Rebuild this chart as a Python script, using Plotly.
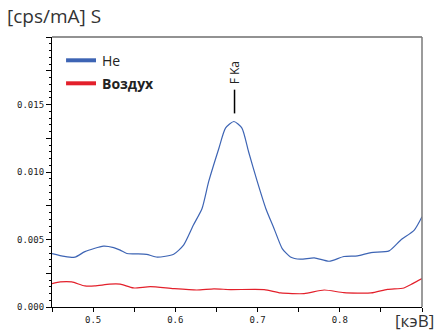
import plotly.graph_objects as go

# Data
he_x = [0.45, 0.465, 0.478, 0.49, 0.5126, 0.525, 0.533, 0.541, 0.553, 0.565, 0.578, 0.598,
        0.610, 0.622, 0.6325, 0.6406, 0.653, 0.661, 0.6712, 0.681, 0.689, 0.6996, 0.71,
        0.72, 0.73, 0.74, 0.752, 0.769, 0.787, 0.805, 0.8216, 0.838, 0.860, 0.874, 0.8906, 0.9]
he_y = [0.00396, 0.00375, 0.00369, 0.0041, 0.00451, 0.0044, 0.00421, 0.00396, 0.00394, 0.0039,
        0.00369, 0.00391, 0.00458, 0.00607, 0.0073, 0.0093, 0.01176, 0.01325, 0.01374, 0.01325,
        0.01152, 0.0093, 0.0073, 0.00582, 0.00433, 0.00371, 0.00354, 0.00364, 0.00339, 0.00374,
        0.00379, 0.00403, 0.00416, 0.00495, 0.0057, 0.00669]

air_x = [0.45, 0.46, 0.474, 0.49, 0.502, 0.52, 0.533, 0.549, 0.5695, 0.598, 0.626, 0.647,
         0.667, 0.708, 0.728, 0.7566, 0.781, 0.805, 0.838, 0.858, 0.878, 0.8887, 0.9]
air_y = [0.00173, 0.00186, 0.00186, 0.00156, 0.00156, 0.00169, 0.00169, 0.00141, 0.00151,
         0.00136, 0.00126, 0.00134, 0.00129, 0.00129, 0.00104, 0.00099, 0.00126, 0.00106,
         0.00104, 0.00131, 0.00141, 0.00173, 0.0021]

series_names = ["He", "Воздух"]
series_colors = ["#3d64b4", "#e3202b"]

y_tickvals = [0, 0.0025, 0.005, 0.0075, 0.01, 0.0125, 0.015, 0.0175, 0.02]
y_ticktext = ["0.000", "", "0.005", "", "0.010", "", "0.015", "", ""]
x_tickvals = [0.45, 0.5, 0.55, 0.6, 0.65, 0.7, 0.75, 0.8, 0.85, 0.9]
x_ticktext = ["", "0.5", "", "0.6", "", "0.7", "", "0.8", "", ""]

peak_label = "F Ka"
peak_x = 0.672

fig = go.Figure()
fig.add_trace(go.Scatter(x=he_x, y=he_y, mode="lines", name=series_names[0],
                         line=dict(color=series_colors[0], width=1.2, shape="spline", smoothing=0.6)))
fig.add_trace(go.Scatter(x=air_x, y=air_y, mode="lines", name=series_names[1],
                         line=dict(color=series_colors[1], width=1.2, shape="spline", smoothing=0.6)))

mono = "DejaVu Sans Mono"
fig.update_layout(
    width=438, height=331,
    margin=dict(l=52, r=16, t=37, b=24, autoexpand=False),
    paper_bgcolor="white", plot_bgcolor="white",
    showlegend=False,
    xaxis=dict(range=[0.45, 0.9], showgrid=False, zeroline=False, automargin=False,
               showline=True, linecolor="black", linewidth=1.2,
               ticks="outside", ticklen=4, tickcolor="black",
               tickvals=x_tickvals, ticktext=x_ticktext,
               tickfont=dict(family=mono, size=9, color="#222")),
    yaxis=dict(range=[0, 0.02], showgrid=False, zeroline=False, automargin=False,
               showline=True, linecolor="black", linewidth=1.2,
               ticks="outside", ticklen=5, tickcolor="black",
               tickvals=y_tickvals, ticktext=y_ticktext,
               tickfont=dict(family=mono, size=9, color="#222"),
               minor=dict(dtick=0.0005, ticks="outside", ticklen=2, tickcolor="black")),
)

# top / right frame in grey
fig.add_shape(type="line", xref="paper", yref="paper", x0=0, x1=1, y0=1, y1=1,
              line=dict(color="#6e6e6e", width=1.5))
fig.add_shape(type="line", xref="paper", yref="paper", x0=1, x1=1, y0=0, y1=1,
              line=dict(color="#7a7a7a", width=1.5))

# legend
leg_y = [0.9137, 0.8285]
for name, col, ly, bold in zip(series_names, series_colors, leg_y, [False, True]):
    fig.add_shape(type="line", xref="paper", yref="paper", x0=0.038, x1=0.119, y0=ly, y1=ly,
                  line=dict(color=col, width=4))
    fig.add_annotation(xref="paper", yref="paper", x=0.130, y=ly, xanchor="left", yanchor="middle",
                       text=f"<b>{name}</b>" if bold else name, showarrow=False,
                       font=dict(family="Open Sans", size=14, color="#222"))

# peak label
fig.add_shape(type="line", xref="x", yref="y", x0=peak_x, x1=peak_x, y0=0.01434, y1=0.0161,
              line=dict(color="black", width=1.5))
fig.add_annotation(xref="x", yref="y", x=peak_x, y=0.01635, yanchor="bottom", xanchor="center",
                   text=peak_label, textangle=-90, showarrow=False,
                   font=dict(family="Open Sans", size=12, color="#222"))

# axis unit labels
fig.add_annotation(xref="paper", yref="paper", x=-0.127, y=1.0 + 21 / 270, xanchor="left", yanchor="middle",
                   text="[cps/mA] S", showarrow=False,
                   font=dict(family="Open Sans", size=19, color="#333"))
fig.add_annotation(xref="paper", yref="paper", x=1.038, y=-0.049, xanchor="right", yanchor="middle",
                   text="[кэВ]", showarrow=False,
                   font=dict(family="Open Sans", size=17, color="#333"))

fig.write_html("out.html", config={"displayModeBar": False},
               post_script="document.body.style.margin='0';")
